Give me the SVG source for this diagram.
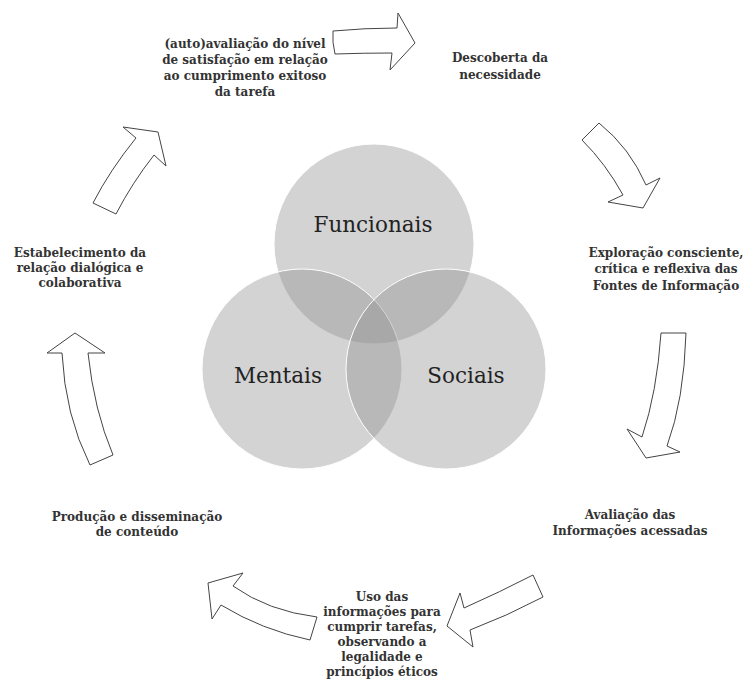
<svg xmlns="http://www.w3.org/2000/svg" width="745" height="682" viewBox="0 0 745 682">
<style>
.c{fill:#929292;fill-opacity:0.4;stroke:#ffffff;stroke-width:1}
.cl{font-family:'DejaVu Serif','Liberation Serif',serif;font-size:21.5px;fill:#222;text-anchor:middle}
.t{font-family:'DejaVu Serif','Liberation Serif',serif;font-size:12px;font-weight:bold;fill:#333;text-anchor:middle}
.a{fill:#ffffff;stroke:#444;stroke-width:1;stroke-linejoin:miter}
</style>
<rect width="745" height="682" fill="#ffffff"/>
<g id="venn">
<g id="funcionais"><circle class="c" cx="374" cy="244" r="100"/><text class="cl" x="373" y="232">Funcionais</text></g>
<g id="mentais"><circle class="c" cx="302" cy="369" r="100"/><text class="cl" x="278" y="383">Mentais</text></g>
<g id="sociais"><circle class="c" cx="446" cy="369" r="100"/><text class="cl" x="466" y="383">Sociais</text></g>
</g>
<g id="connectors">
<path class="a" d="M333,31 Q365,28 397,28 L398,13 L415,43 L390,70 L392,53 Q363,53 335,54 Q332,42 333,31 Z"/>
<path class="a" d="M599,123 Q630,148 646,185 L660,178 L643,208 L608,202 L623,195 Q606,164 582,140 Z"/>
<path class="a" d="M661,333 L686,333 Q684,400 667,446 L680,452 L646,458 L627,429 L642,437 Q657,392 661,333 Z"/>
<path class="a" d="M533,575 Q500,592 464,608 L460,593 L447,626 L473,647 L470,630 Q507,616 543,597 Z"/>
<path class="a" d="M317,617 Q268,611 233,586 L243,573 L208,583 L212,619 L221,605 Q262,630 310,640 Z"/>
<path class="a" d="M90,465 L113,455 Q94,410 88,353 L105,353 L75,333 L47,353 L62,353 Q65,415 90,465 Z"/>
<path class="a" d="M93,203 L116,214 Q132,183 154,155 L166,166 L158,132 L123,127 L136,138 Q110,170 93,203 Z"/>
</g>
<g id="n1"><text class="t"><tspan x="245" y="48">(auto)avaliação do nível</tspan><tspan x="245" y="64">de satisfação em relação</tspan><tspan x="245" y="80">ao cumprimento exitoso</tspan><tspan x="245" y="96">da tarefa</tspan></text></g>
<g id="n2"><text class="t"><tspan x="500" y="62">Descoberta da</tspan><tspan x="500" y="79">necessidade</tspan></text></g>
<g id="n3"><text class="t"><tspan x="666" y="257">Exploração consciente,</tspan><tspan x="666" y="273">crítica e reflexiva das</tspan><tspan x="666" y="290">Fontes de Informação</tspan></text></g>
<g id="n4"><text class="t"><tspan x="630" y="519">Avaliação das</tspan><tspan x="630" y="535">Informações acessadas</tspan></text></g>
<g id="n5"><text class="t"><tspan x="382" y="601">Uso das</tspan><tspan x="382" y="616">informações para</tspan><tspan x="382" y="631">cumprir tarefas,</tspan><tspan x="382" y="646">observando a</tspan><tspan x="382" y="661">legalidade e</tspan><tspan x="382" y="676">princípios éticos</tspan></text></g>
<g id="n6"><text class="t"><tspan x="137" y="521">Produção e disseminação</tspan><tspan x="137" y="536">de conteúdo</tspan></text></g>
<g id="n7"><text class="t"><tspan x="80" y="257">Estabelecimento da</tspan><tspan x="80" y="272">relação dialógica e</tspan><tspan x="80" y="287">colaborativa</tspan></text></g>
</svg>
